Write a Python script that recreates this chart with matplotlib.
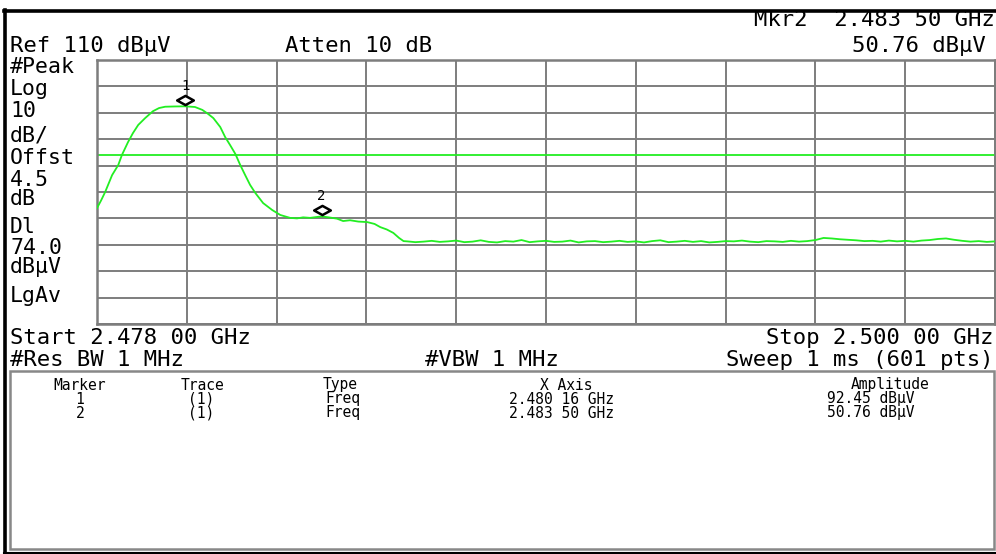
import numpy as np
import matplotlib
matplotlib.use("Agg")
import matplotlib.pyplot as plt
from matplotlib.path import Path
from matplotlib.transforms import offset_copy
from matplotlib.patches import Rectangle
from matplotlib.lines import Line2D

# ---------------- data ----------------
start_mhz = 2478.0
stop_mhz = 2500.0
ref_level = 110.0
db_per_div = 10.0
display_line = 74.0

freq_mhz = [
    2478.00, 2478.10, 2478.20, 2478.37, 2478.52, 2478.61, 2478.76, 2478.88, 2479.01,
    2479.18, 2479.37, 2479.52, 2479.67, 2479.90, 2480.16, 2480.40, 2480.58, 2480.72,
    2480.85, 2481.02, 2481.14, 2481.26, 2481.39, 2481.51, 2481.63, 2481.75, 2481.88,
    2482.07, 2482.29, 2482.49, 2482.73, 2482.90, 2483.05, 2483.22, 2483.50, 2483.72,
    2483.88, 2484.03, 2484.20, 2484.40, 2484.62, 2484.80, 2484.94, 2485.10, 2485.26,
    2485.40, 2485.51,
    2485.6, 2485.8, 2486.0, 2486.2, 2486.4, 2486.6, 2486.8, 2487.0, 2487.2, 2487.4,
    2487.6, 2487.8, 2488.0, 2488.2, 2488.4, 2488.6, 2488.8, 2489.0, 2489.2, 2489.4,
    2489.6, 2489.8, 2490.0, 2490.2, 2490.4, 2490.6, 2490.8, 2491.0, 2491.2, 2491.4,
    2491.6, 2491.8, 2492.0, 2492.2, 2492.4, 2492.6, 2492.8, 2493.0, 2493.2, 2493.4,
    2493.6, 2493.8, 2494.0, 2494.2, 2494.4, 2494.6, 2494.8, 2495.0, 2495.2, 2495.4,
    2495.6, 2495.8, 2496.0, 2496.2, 2496.4, 2496.6, 2496.8, 2497.0, 2497.2, 2497.4,
    2497.6, 2497.8, 2498.0, 2498.2, 2498.4, 2498.6, 2498.8, 2499.0, 2499.2, 2499.4,
    2499.6, 2499.8, 2500.0,
]
level_dbuv = [
    53.9, 56.8, 60.0, 66.4, 70.2, 74.0, 78.9, 82.3, 85.4,
    88.0, 90.6, 91.8, 92.3, 92.4, 92.45, 92.2, 91.1, 89.6,
    88.0, 84.6, 80.8, 77.8, 74.4, 70.2, 66.4, 62.7, 59.6,
    55.8, 53.2, 51.3, 50.2, 50.0, 50.4, 50.2, 50.76, 50.3,
    49.9, 49.0, 49.3, 48.8, 48.6, 47.9, 46.7, 45.8, 44.5,
    42.6, 41.4,
    41.3, 41.0, 41.2, 41.5, 41.1, 41.3, 41.6, 41.0, 41.2, 41.7,
    41.1, 40.9, 41.4, 41.2, 41.8, 41.0, 41.3, 41.5, 41.1, 41.2,
    41.6, 40.9, 41.3, 41.4, 41.0, 41.2, 41.5, 41.1, 41.3, 40.9,
    41.4, 41.7, 41.0, 41.2, 41.5, 41.1, 41.4, 40.9, 41.1, 41.4,
    41.3, 41.6, 41.2, 41.0, 41.4, 41.3, 41.1, 41.5, 41.2, 41.4,
    41.8, 42.6, 42.4, 42.1, 41.9, 41.7, 41.4, 41.5, 41.2, 41.6,
    41.3, 41.5, 41.2, 41.6, 41.8, 42.2, 42.4, 41.9, 41.5, 41.2,
    41.4, 41.1, 41.3,
]

marker_ids = ["1", "2"]
marker_freq_mhz = [2480.16, 2483.50]
marker_amp = [92.45, 50.76]
marker_freq_txt = ["2.480 16 GHz", "2.483 50 GHz"]
marker_amp_txt = ["92.45 dBµV", "50.76 dBµV"]

left_labels = ["#Peak", "Log", "10", "dB/", "Offst", "4.5", "dB", "Dl", "74.0", "dBµV", "LgAv"]
left_label_y = [67, 89, 111, 136, 158, 180, 199, 227, 248, 267, 296]

# ---------------- figure ----------------
W, H = 996, 554
fig = plt.figure(figsize=(W / 100, H / 100), dpi=100)
fig.patch.set_facecolor("white")


def fx(x):
    return x / W


def fy(y):
    return 1 - y / H


MONO = "DejaVu Sans Mono"
BIG = 16
LEFT = 15.5
SMALL = 10.5
GREEN = "#22ee22"
GRID = "#7d7d7d"

ax = fig.add_axes([fx(97), fy(324), (995 - 97) / W, (324 - 60) / H])
ax.set_xlim(start_mhz, stop_mhz)
ax.set_ylim(ref_level - 10 * db_per_div, ref_level)
ax.set_xticks(np.linspace(start_mhz, stop_mhz, 11))
ax.set_yticks(np.arange(ref_level - 10 * db_per_div, ref_level + 1, db_per_div))
ax.tick_params(length=0, labelbottom=False, labelleft=False)
ax.grid(True, color=GRID, lw=1.4)
ax.set_axisbelow(True)
for s in ax.spines.values():
    s.set_color(GRID)
    s.set_linewidth(1.8)

ax.axhline(display_line, color=GREEN, lw=1.3, zorder=2)
ax.plot(freq_mhz, level_dbuv, color=GREEN, lw=1.3, zorder=3)

diamond = Path([(-1, 0), (0, 0.55), (1, 0), (0, -0.55), (-1, 0)],
               [Path.MOVETO, Path.LINETO, Path.LINETO, Path.LINETO, Path.CLOSEPOLY])
up = offset_copy(ax.transData, fig=fig, x=0, y=6, units="dots")
for mid, f, a in zip(marker_ids, marker_freq_mhz, marker_amp):
    ax.plot([f], [a], marker=diamond, ms=12, mfc="white", mec="black", mew=1.8,
            transform=up, zorder=5, clip_on=False)
    ax.annotate(mid, (f, a), xytext=(0, 20), textcoords="offset pixels",
                ha="center", va="center", fontsize=10, family=MONO, zorder=6)


# ---------------- header / annotation text ----------------
def t(x, y, s, ha="left", size=BIG):
    fig.text(fx(x), fy(y), s, ha=ha, va="center", fontsize=size, family=MONO, color="black")


t(995, 20, "Mkr2  2.483 50 GHz", ha="right")
t(10, 46, "Ref 110 dBµV")
t(285, 46, "Atten 10 dB")
t(986, 46, "50.76 dBµV", ha="right")
for s, y in zip(left_labels, left_label_y):
    t(10, y, s, size=LEFT)

t(10, 338, "Start 2.478 00 GHz")
t(993, 338, "Stop 2.500 00 GHz", ha="right")
t(10, 360, "#Res BW 1 MHz")
t(425, 360, "#VBW 1 MHz")
t(993, 360, "Sweep 1 ms (601 pts)", ha="right")

# ---------------- marker table ----------------
col_x = [80, 202, 340, 566, 890]
headers = ["Marker", "Trace", "Type", "X Axis", "Amplitude"]
for x, h in zip(col_x, headers):
    t(x, 385, h, ha="center", size=SMALL)
row_y = [399, 413]
xs = [80, 201, 343, 561, 871]
for i, y in enumerate(row_y):
    vals = [marker_ids[i], "(1)", "Freq", marker_freq_txt[i], marker_amp_txt[i]]
    for x, v in zip(xs, vals):
        t(x, y, v, ha="center", size=SMALL)

fig.patches.append(Rectangle((fx(10), fy(549)), fx(994) - fx(10), fy(371) - fy(549),
                             transform=fig.transFigure, fill=False, ec="#888888", lw=1.8))
# outer instrument frame
fig.lines.append(Line2D([fx(4), fx(996)], [fy(11), fy(11)], transform=fig.transFigure,
                        color="black", lw=2.6))
fig.lines.append(Line2D([fx(5), fx(5)], [fy(10), fy(553)], transform=fig.transFigure,
                        color="black", lw=2.6))
fig.lines.append(Line2D([fx(4), fx(996)], [fy(552.5), fy(552.5)], transform=fig.transFigure,
                        color="black", lw=1.5))

fig.savefig("out.png", dpi=100, facecolor="white")
